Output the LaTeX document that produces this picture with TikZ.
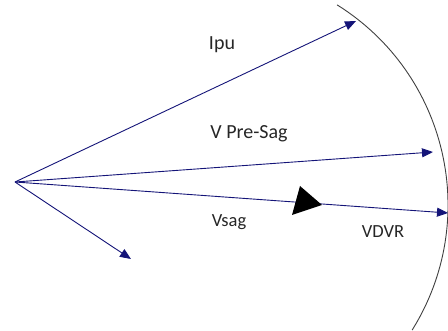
\documentclass[tikz,border=0pt]{standalone}
\usepackage{fontspec}
\setmainfont{Carlito}
\usetikzlibrary{arrows.meta}
\definecolor{phasor}{RGB}{20,20,120}
\tikzset{
  vec/.style={draw=phasor, line width=0.9pt,
    -{Triangle[length=11pt,width=9pt,fill=phasor]}},
  lbl/.style={font=\fontsize{20}{24}\selectfont, text=black!85, inner sep=0pt},
  slbl/.style={font=\fontsize{18.5}{22}\selectfont, text=black!85, inner sep=0pt}
}
\begin{document}
\begin{tikzpicture}[x=1pt,y=-1pt]
  \useasboundingbox (0,0) rectangle (448,331);
  % common origin of all phasors
  \coordinate (O) at (15,182);
  \coordinate (ipu) at (356,21);
  \coordinate (pre) at (433,152);
  \coordinate (sag) at (448,213);
  \coordinate (low) at (131,259);
  % boundary arc (y axis points down, so upward angles are negative)
  \coordinate (C) at (212,205);
  \draw[black!75, line width=0.9pt] (C) ++(-58:236) arc[start angle=-58, end angle=32, radius=236];
  % phasors
  \draw[vec] (O) -- (ipu);
  \draw[vec] (O) -- (pre);
  \draw[vec] (O) -- (sag);
  \draw[vec] (O) -- (low);
  % large black head sitting on the Vsag phasor
  \fill[black] (322,205) -- (300,186) -- (292,215) -- cycle;
  % labels
  \node[lbl] (tIpu) at (222,45) {Ipu};
  \node[lbl] (tPre) at (249,134) {V Pre-Sag};
  \node[slbl] (tSag) at (229,222) {Vsag};
  \node[slbl] (tDvr) at (383,232) {VDVR};
\end{tikzpicture}
\end{document}
